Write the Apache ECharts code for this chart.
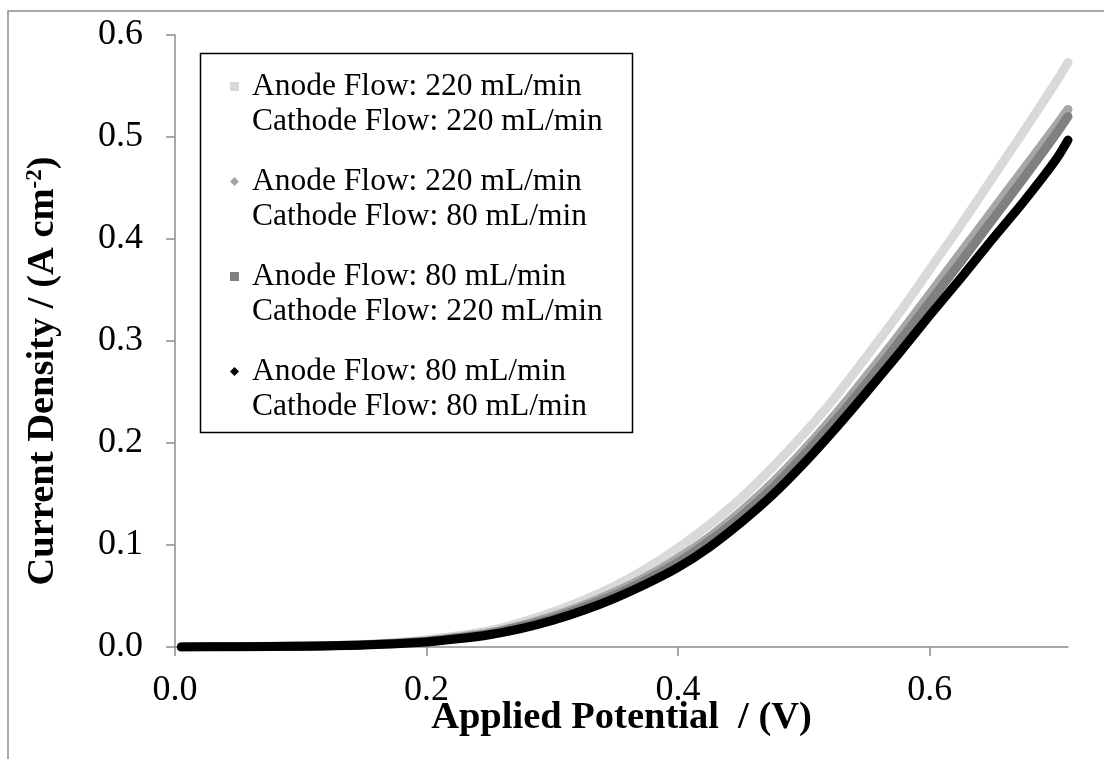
<!DOCTYPE html>
<html>
<head>
<meta charset="utf-8">
<script src="https://cdn.jsdelivr.net/npm/echarts@6/dist/echarts.min.js"></script>
<style>
  html, body { margin: 0; padding: 0; background: #fff; }
  #chart { width: 1104px; height: 759px; }
</style>
</head>
<body>
<div id="chart"></div>
<script>
  // applied potential (V)
  const potentials = [0.005, 0.05, 0.1, 0.15, 0.2, 0.225, 0.25, 0.275, 0.3, 0.325, 0.35, 0.375, 0.4,
    0.425, 0.45, 0.475, 0.5, 0.525, 0.55, 0.575, 0.6, 0.625, 0.65, 0.675, 0.7, 0.71];

  // current density (A cm-2) for each flow combination
  const a220c220 = [0, 0.0004, 0.001, 0.0025, 0.007, 0.011, 0.016, 0.024, 0.034, 0.046, 0.060, 0.077, 0.097,
    0.120, 0.146, 0.176, 0.209, 0.245, 0.285, 0.326, 0.370, 0.414, 0.460, 0.506, 0.553, 0.573];
  const a220c80 = [0, 0.0003, 0.0009, 0.0022, 0.006, 0.0095, 0.014, 0.021, 0.030, 0.041, 0.054, 0.069, 0.087,
    0.108, 0.133, 0.161, 0.193, 0.228, 0.266, 0.305, 0.346, 0.387, 0.428, 0.469, 0.510, 0.527];
  const a80c220 = [0, 0.0003, 0.0008, 0.0021, 0.0055, 0.009, 0.013, 0.020, 0.028, 0.039, 0.051, 0.066, 0.083,
    0.104, 0.128, 0.156, 0.188, 0.222, 0.259, 0.298, 0.338, 0.378, 0.419, 0.460, 0.502, 0.520];
  const a80c80 = [0, 0.0003, 0.0008, 0.002, 0.005, 0.008, 0.012, 0.018, 0.026, 0.036, 0.048, 0.062, 0.078,
    0.098, 0.122, 0.149, 0.180, 0.214, 0.250, 0.287, 0.325, 0.362, 0.400, 0.437, 0.477, 0.497];

  const seriesNames = [
    'Anode Flow: 220 mL/min\nCathode Flow: 220 mL/min',
    'Anode Flow: 220 mL/min\nCathode Flow: 80 mL/min',
    'Anode Flow: 80 mL/min\nCathode Flow: 220 mL/min',
    'Anode Flow: 80 mL/min\nCathode Flow: 80 mL/min'
  ];
  const seriesColors = ['#d9d9d9', '#a6a6a6', '#808080', '#000000'];
  const seriesIcons = ['rect', 'diamond', 'rect', 'diamond'];
  const seriesValues = [a220c220, a220c80, a80c220, a80c80];

  const font = '"Liberation Serif", "Times New Roman", serif';

  let chart = echarts.init(document.getElementById('chart'));

  chart.setOption({
    animation: false,
    textStyle: { fontFamily: font },
    grid: { left: 175, right: 36, top: 35, bottom: 112, outerBoundsMode: 'none' },
    graphic: [
      {
        type: 'rect',
        shape: { x: 8, y: 11, width: 1200, height: 800 },
        style: { fill: 'none', stroke: '#8c8c8c', lineWidth: 1.5 },
        silent: true
      },
      {
        type: 'rect',
        z: 10,
        shape: { x: 200.5, y: 53.5, width: 432, height: 379 },
        style: { fill: '#fff', stroke: '#000', lineWidth: 1.5 },
        silent: true
      }
    ],
    legend: {
      orient: 'vertical',
      left: 230,
      top: 34,
      padding: 0,
      itemGap: -10,
      itemWidth: 9,
      itemHeight: 9,
      z: 20,
      selectedMode: false,
      // empty first line so the marker sits beside the "Anode" line
      formatter: name => '\n' + name,
      textStyle: {
        fontFamily: font,
        fontSize: 31.5,
        lineHeight: 35,
        color: '#000',
        padding: [0, 0, 0, 8]
      },
      data: seriesNames.map((n, i) => ({ name: n, icon: seriesIcons[i] }))
    },
    xAxis: {
      type: 'value',
      min: 0,
      max: 0.71,
      interval: 0.2,
      name: 'Applied Potential  / (V)',
      nameLocation: 'middle',
      nameGap: 52,
      nameMoveOverlap: false,
      nameTextStyle: { fontFamily: font, fontSize: 38.5, fontWeight: 'bold', color: '#000' },
      axisLine: { show: true, lineStyle: { color: '#8c8c8c', width: 1.5 } },
      axisTick: { show: true, length: 9, lineStyle: { color: '#8c8c8c', width: 1.5 } },
      splitLine: { show: false },
      axisLabel: {
        fontFamily: font, fontSize: 36, color: '#000', margin: 26,
        showMaxLabel: false,
        formatter: v => v.toFixed(1)
      }
    },
    yAxis: {
      type: 'value',
      min: 0,
      max: 0.6,
      interval: 0.1,
      name: '{b|Current Density / (A cm}{s|-2}{b|)}',
      nameLocation: 'middle',
      nameGap: 112,
      nameMoveOverlap: false,
      nameTextStyle: {
        padding: [0, 60, 0, 0],
        rich: {
          b: { fontFamily: font, fontSize: 38.5, fontWeight: 'bold', color: '#000' },
          s: { fontFamily: font, fontSize: 23, fontWeight: 'bold', color: '#000', verticalAlign: 'top' }
        }
      },
      axisLine: { show: true, lineStyle: { color: '#8c8c8c', width: 1.5 } },
      axisTick: { show: true, length: 9, lineStyle: { color: '#8c8c8c', width: 1.5 } },
      splitLine: { show: false },
      axisLabel: {
        fontFamily: font, fontSize: 36, color: '#000', margin: 32,
        formatter: v => v.toFixed(1)
      }
    },
    series: seriesNames.map((n, i) => ({
      name: n,
      type: 'line',
      smooth: 0.3,
      showSymbol: false,
      symbol: seriesIcons[i],
      color: seriesColors[i],
      lineStyle: { width: 9, color: seriesColors[i], cap: 'round', join: 'round' },
      data: potentials.map((p, k) => [p, seriesValues[i][k]])
    }))
  });
</script>
</body>
</html>
